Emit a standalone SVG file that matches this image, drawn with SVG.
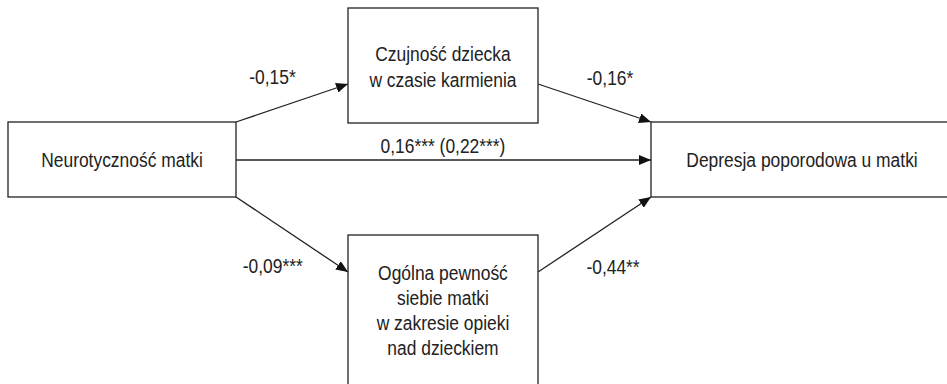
<svg xmlns="http://www.w3.org/2000/svg" width="947" height="384" viewBox="0 0 947 384">
<defs>
<style>
.box{fill:#fff;stroke:#222;stroke-width:1.3}
.t{font-family:"Liberation Sans",Arial,sans-serif;font-size:21px;fill:#222;text-anchor:middle}
.c{stroke:#222;stroke-width:1.3;fill:none;marker-end:url(#ah)}
</style>
<marker id="ah" viewBox="0 0 12 10" refX="12" refY="5" markerWidth="12" markerHeight="10" markerUnits="userSpaceOnUse" orient="auto">
<path d="M0,0 L12,5 L0,10 Z" fill="#111"/>
</marker>
</defs>
<rect width="947" height="384" fill="#fff"/>
<g id="connectors">
<line class="c" x1="236" y1="122" x2="348" y2="84"/>
<line class="c" x1="538" y1="84" x2="651" y2="122"/>
<line class="c" x1="236" y1="160" x2="651" y2="160"/>
<line class="c" x1="236" y1="197" x2="348" y2="272"/>
<line class="c" x1="538" y1="272" x2="651" y2="197"/>
<g transform="scale(0.83,1)">
<text class="t" x="328.3" y="84">-0,15*</text>
<text class="t" x="735" y="85">-0,16*</text>
<text class="t" x="533.7" y="153">0,16*** (0,22***)</text>
<text class="t" x="328.7" y="273">-0,09***</text>
<text class="t" x="738.6" y="274">-0,44**</text>
</g>
</g>
<g id="node-neurotycznosc">
<rect class="box" x="8" y="122" width="228" height="75"/>
<text class="t" transform="scale(0.83,1)" x="147" y="167">Neurotyczność matki</text>
</g>
<g id="node-czujnosc">
<rect class="box" x="348" y="8" width="190" height="115"/>
<text class="t" transform="scale(0.83,1)" x="533.7" y="61">Czujność dziecka</text>
<text class="t" transform="scale(0.83,1)" x="533.7" y="87">w czasie karmienia</text>
</g>
<g id="node-pewnosc">
<rect class="box" x="348" y="235" width="190" height="160"/>
<text class="t" transform="scale(0.83,1)" x="533.7" y="280">Ogólna pewność</text>
<text class="t" transform="scale(0.83,1)" x="533.7" y="305">siebie matki</text>
<text class="t" transform="scale(0.83,1)" x="533.7" y="330">w zakresie opieki</text>
<text class="t" transform="scale(0.83,1)" x="533.7" y="355">nad dzieckiem</text>
</g>
<g id="node-depresja">
<rect class="box" x="651" y="122" width="310" height="75"/>
<text class="t" transform="scale(0.83,1)" x="966.3" y="167">Depresja poporodowa u matki</text>
</g>
</svg>
